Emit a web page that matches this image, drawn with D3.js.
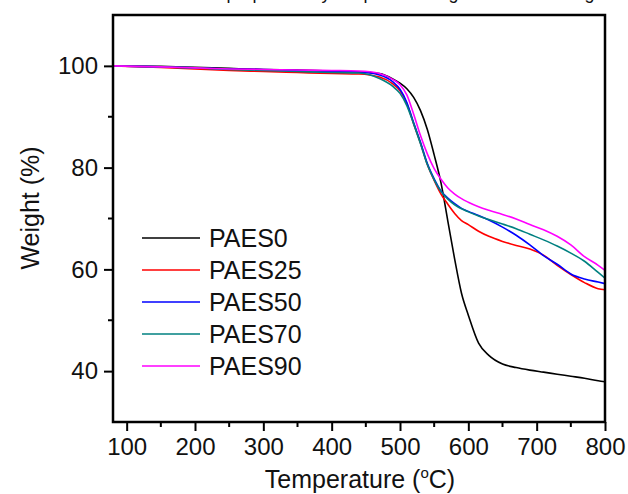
<!DOCTYPE html>
<html>
<head>
<meta charset="utf-8">
<script src="https://cdn.jsdelivr.net/npm/d3@7"></script>
<style>
  body { margin: 0; background: #fff; }
  text { font-family: Arial, "Liberation Sans", sans-serif; fill: #111; }
</style>
</head>
<body>
<div id="chart"></div>
<script>
// TGA curves
const temps = [80, 150, 200, 250, 300, 350, 400, 440, 470, 490, 500, 510, 520, 530, 540, 550,
  560, 570, 580, 590, 600, 615, 630, 650, 670, 690, 710, 730, 750, 770, 790, 800];

const paes0 = [100, 99.9, 99.7, 99.5, 99.3, 99.2, 99.0, 98.8, 98.5, 97.4, 96.6, 95.5, 93.8, 91.2, 87.5, 82.5,
  77, 69.5, 62, 55.3, 51, 45.5, 43.1, 41.4, 40.7, 40.2, 39.8, 39.4, 39.0, 38.6, 38.1, 37.9];
const paes25 = [100, 99.7, 99.4, 99.1, 98.9, 98.7, 98.5, 98.4, 97.8, 96.4, 95.1, 92.6, 88.6, 84.8, 80.6, 77.5,
  74.8, 72.8, 71.0, 69.6, 68.8, 67.5, 66.5, 65.5, 64.7, 64.0, 62.8, 60.8, 59.0, 57.4, 56.2, 56.0];
const paes50 = [100, 99.8, 99.6, 99.4, 99.3, 99.1, 98.9, 98.8, 98.2, 96.8, 95.4, 92.8, 88.8, 85.0, 80.8, 77.8,
  75.4, 74.0, 72.9, 72.0, 71.4, 70.6, 69.7, 68.3, 66.7, 64.8, 62.7, 61.0, 59.1, 58.1, 57.5, 57.2];
const paes70 = [100, 99.8, 99.6, 99.3, 99.1, 98.9, 98.7, 98.6, 97.5, 95.9, 94.6, 92.2, 88.6, 84.7, 80.6, 77.6,
  75.3, 73.8, 72.7, 71.9, 71.3, 70.5, 69.8, 68.9, 68.0, 66.9, 65.8, 64.6, 63.2, 61.6, 59.4, 58.3];
const paes90 = [100, 99.8, 99.6, 99.4, 99.3, 99.2, 99.1, 99.0, 98.5, 97.3, 96.3, 94.3, 90.5, 86.3, 82.7, 79.8,
  77.7, 76.0, 74.8, 73.9, 73.2, 72.3, 71.6, 70.8, 69.9, 68.8, 67.8, 66.5, 64.8, 62.5, 60.8, 59.8];

const seriesNames = ["PAES0", "PAES25", "PAES50", "PAES70", "PAES90"];
const seriesValues = [paes0, paes25, paes50, paes70, paes90];
const seriesColors = ["#000000", "#ff0000", "#0000ff", "#008080", "#ff00ff"];

const xTicks = [100, 200, 300, 400, 500, 600, 700, 800];
const xMinor = [150, 250, 350, 450, 550, 650, 750];
const yTicks = [40, 60, 80, 100];
const yMinor = [50, 70, 90];

const width = 628, height = 494;
const plotLeft = 113, plotRight = 605, plotTop = 15, plotBottom = 422;

const svg = d3.select("#chart").append("svg")
    .attr("width", width)
    .attr("height", height);

// caption of the source figure, cut off at the top edge (only descenders show)
svg.append("text")
    .attr("x", 375)
    .attr("y", -1)
    .attr("text-anchor", "middle")
    .attr("font-size", 18)
    .text("Thermal properties by simple thermogravimetric testing");

const x = d3.scaleLinear().domain([80, 800]).range([plotLeft, plotRight]);
const y = d3.scaleLinear().domain([30, 110]).range([plotBottom, plotTop]);

const line = d3.line()
    .x(d => x(d[0]))
    .y(d => y(d[1]))
    .curve(d3.curveMonotoneX);

seriesValues.forEach((vals, i) => {
    svg.append("path")
        .datum(temps.map((t, j) => [t, vals[j]]))
        .attr("fill", "none")
        .attr("stroke", seriesColors[i])
        .attr("stroke-width", 1.6)
        .attr("d", line);
});

// bottom axis
const xAxis = svg.append("g")
    .attr("transform", `translate(0,${plotBottom})`)
    .call(d3.axisBottom(x).tickValues(xTicks).tickSize(9).tickPadding(7));
xAxis.append("g").selectAll("line")
    .data(xMinor)
    .enter().append("line")
    .attr("x1", d => x(d)).attr("x2", d => x(d))
    .attr("y1", 0).attr("y2", 5);

// left axis
const yAxis = svg.append("g")
    .attr("transform", `translate(${plotLeft},0)`)
    .call(d3.axisLeft(y).tickValues(yTicks).tickSize(9).tickPadding(6));
yAxis.append("g").selectAll("line")
    .data(yMinor)
    .enter().append("line")
    .attr("y1", d => y(d)).attr("y2", d => y(d))
    .attr("x1", 0).attr("x2", -5);

[xAxis, yAxis].forEach(a => {
    a.select(".domain").remove();
    a.selectAll("line").attr("stroke", "#000").attr("stroke-width", 2);
    a.selectAll("text")
        .attr("font-size", 24)
        .attr("font-family", "Arial, 'Liberation Sans', sans-serif")
        .attr("fill", "#111");
});

// frame
svg.append("rect")
    .attr("x", plotLeft)
    .attr("y", plotTop)
    .attr("width", plotRight - plotLeft)
    .attr("height", plotBottom - plotTop)
    .attr("fill", "none")
    .attr("stroke", "#000")
    .attr("stroke-width", 2.5);

// axis titles
const xTitle = svg.append("text")
    .attr("x", 360)
    .attr("y", 488)
    .attr("text-anchor", "middle")
    .attr("font-size", 25);
xTitle.append("tspan").text("Temperature (");
xTitle.append("tspan").attr("font-size", 15).attr("dy", -10).text("o");
xTitle.append("tspan").attr("dy", 10).text("C)");

svg.append("text")
    .attr("transform", "translate(39,208) rotate(-90)")
    .attr("text-anchor", "middle")
    .attr("font-size", 25)
    .text("Weight (%)");

// legend
const legend = svg.append("g");
seriesNames.forEach((name, i) => {
    const ly = 238 + i * 32;
    legend.append("line")
        .attr("x1", 142).attr("x2", 200)
        .attr("y1", ly).attr("y2", ly)
        .attr("stroke", seriesColors[i])
        .attr("stroke-width", 1.6);
    legend.append("text")
        .attr("x", 209)
        .attr("y", ly)
        .attr("dy", "0.36em")
        .attr("font-size", 25)
        .text(name);
});
</script>
</body>
</html>
